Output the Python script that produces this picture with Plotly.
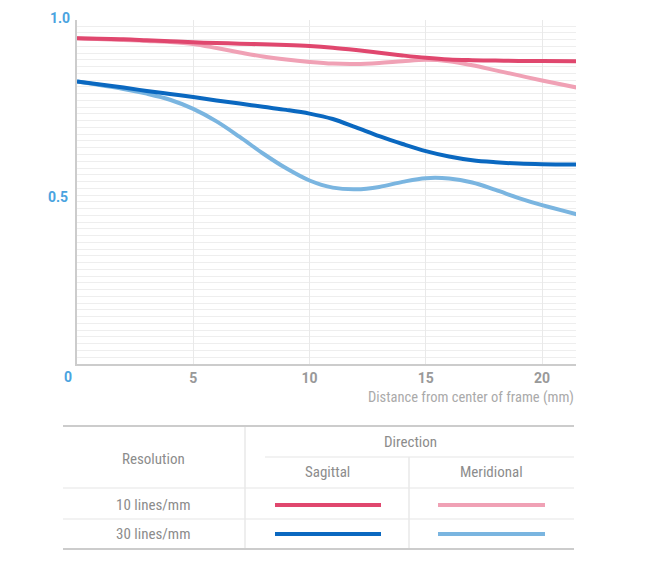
import plotly.graph_objects as go

# distance from centre of frame (mm)
distance = [0, 2, 3, 4, 5, 6, 7, 8, 9, 10, 11, 12, 13, 14, 15, 16, 17, 18, 19, 20, 21.5]

sagittal_10 = [0.964, 0.961, 0.958, 0.955, 0.952, 0.950, 0.948, 0.946, 0.944, 0.941, 0.936,
               0.929, 0.921, 0.913, 0.906, 0.901, 0.899, 0.898, 0.897, 0.897, 0.896]
meridional_10 = [0.964, 0.959, 0.956, 0.953, 0.947, 0.935, 0.922, 0.910, 0.901, 0.894, 0.889,
                 0.888, 0.891, 0.896, 0.900, 0.896, 0.884, 0.869, 0.854, 0.839, 0.818]
sagittal_30 = [0.836, 0.818, 0.808, 0.799, 0.790, 0.780, 0.771, 0.761, 0.752, 0.741, 0.725,
               0.700, 0.674, 0.651, 0.630, 0.614, 0.603, 0.597, 0.593, 0.591, 0.590]
meridional_30 = [0.836, 0.814, 0.800, 0.782, 0.755, 0.718, 0.672, 0.623, 0.579, 0.543, 0.522,
                 0.517, 0.524, 0.539, 0.550, 0.549, 0.537, 0.515, 0.491, 0.470, 0.443]

x_ticks = [5, 10, 15, 20]
y_labels = ["0.5", "1.0"]
resolutions = ["10 lines/mm", "30 lines/mm"]
directions = ["Sagittal", "Meridional"]

RED, PINK = "#e0476e", "#f0a1b5"
BLUE, LIGHT_BLUE = "#0a68c0", "#7ab5e0"
W, H = 650, 569
OFF = 8  # the page body adds an 8px margin
FONT = "Liberation Sans Narrow, Roboto Condensed, Roboto, sans-serif"


def px(x):
    return (x - OFF) / W


def py(y):
    return 1 - (y - OFF) / H


fig = go.Figure()
series = [
    (meridional_10, PINK), (meridional_30, LIGHT_BLUE),
    (sagittal_10, RED), (sagittal_30, BLUE),
]
for values, color in series:
    fig.add_trace(go.Scatter(
        x=distance, y=values, mode="lines",
        line=dict(color=color, width=4, shape="spline", smoothing=1.0),
        showlegend=False, hoverinfo="skip",
    ))

fig.update_layout(
    width=W, height=H,
    margin=dict(l=0, r=0, t=0, b=0),
    paper_bgcolor="white", plot_bgcolor="white",
    font=dict(family=FONT, color="#999999"),
    xaxis=dict(
        domain=[px(77), px(576)], range=[0, 21.46],
        tickvals=x_ticks, ticktext=[str(t) for t in x_ticks],
        tickfont=dict(family="Roboto", size=14, color="#999999", weight="bold"),
        ticks="", showgrid=True, gridcolor="#e9e9e9", gridwidth=1,
        showline=True, linecolor="#cccccc", linewidth=2, zeroline=False,
        fixedrange=True,
    ),
    yaxis=dict(
        domain=[py(364), py(20)], range=[0, 1.018],
        tickvals=[0.5, 1.0], showticklabels=False, ticks="",
        showgrid=True, gridcolor="#eeeeee", gridwidth=1,
        minor=dict(dtick=0.02, showgrid=True, gridcolor="#eeeeee", gridwidth=1),
        showline=True, linecolor="#cccccc", linewidth=2, zeroline=False,
        fixedrange=True,
    ),
)

# y tick labels and the blue "0"
label_font = dict(family="Roboto", size=14, color="#4aa3df", weight="bold")
fig.add_annotation(x=px(72), y=1.0, xref="paper", yref="y", text=y_labels[1],
                   showarrow=False, xanchor="right", yanchor="middle", yshift=8, font=label_font)
fig.add_annotation(x=px(70), y=0.5, xref="paper", yref="y", text=y_labels[0],
                   showarrow=False, xanchor="right", yanchor="middle", yshift=-2, font=label_font)
fig.add_annotation(x=px(68), y=py(377), xref="paper", yref="paper", text="0",
                   showarrow=False, xanchor="center", yanchor="middle", font=label_font)
fig.add_annotation(x=px(576), y=py(397), xref="paper", yref="paper",
                   text="Distance from center of frame (mm)", showarrow=False,
                   xanchor="right", yanchor="middle",
                   font=dict(family=FONT, size=14.5, color="#aaaaaa"))

# table
def hline(x0, x1, y, color, width):
    fig.add_shape(type="line", xref="paper", yref="paper",
                  x0=px(x0), x1=px(x1), y0=py(y), y1=py(y),
                  line=dict(color=color, width=width))


def vline(x, y0, y1, color, width):
    fig.add_shape(type="line", xref="paper", yref="paper",
                  x0=px(x), x1=px(x), y0=py(y0), y1=py(y1),
                  line=dict(color=color, width=width))


hline(63, 574, 426, "#cccccc", 2)
hline(63, 574, 549, "#cccccc", 2)
hline(265, 574, 457, "#eeeeee", 1.5)
hline(63, 574, 488, "#eeeeee", 1.5)
hline(63, 574, 519, "#eeeeee", 1.5)
vline(245, 427, 548, "#e8e8e8", 1.5)
vline(409, 457, 548, "#e8e8e8", 1.5)

cell_font = dict(family=FONT, size=15, color="#8c8c8c")


def cell(x, y, text):
    fig.add_annotation(x=px(x), y=py(y), xref="paper", yref="paper", text=text,
                       showarrow=False, xanchor="center", yanchor="middle", font=cell_font)


cell(153, 459, "Resolution")
cell(410, 442, "Direction")
cell(327, 472, directions[0])
cell(492, 472, directions[1])
cell(153, 505, resolutions[0])
cell(153, 534, resolutions[1])

for (x0, x1), colors in zip([(275, 381), (438, 545)], [(RED, BLUE), (PINK, LIGHT_BLUE)]):
    for y, color in zip([505, 534], colors):
        hline(x0, x1, y, color, 4)

fig.write_html("out.html")
